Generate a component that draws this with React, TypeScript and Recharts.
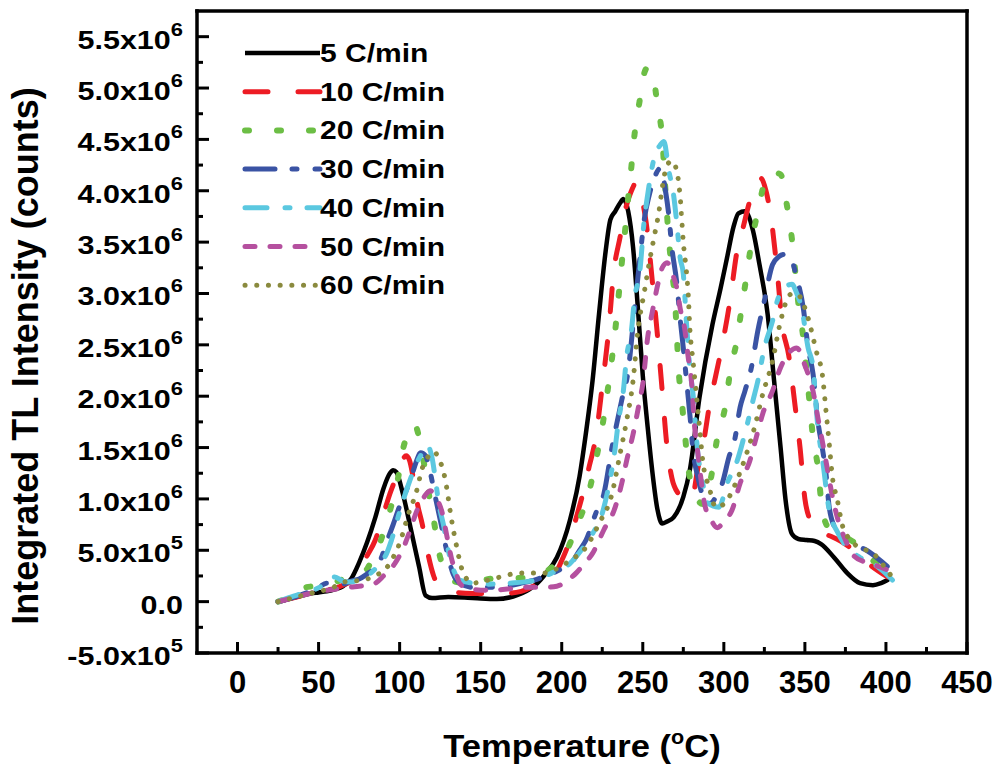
import { LineChart, Line, XAxis, YAxis, Legend } from "recharts"

// integrated TL intensity, in units of 10^6 counts, vs temperature (°C)
const RATE_5: [number, number][] = [
  [25, 0], [30, 0.02], [35, 0.04], [40, 0.06], [45, 0.08], [50, 0.09], [55, 0.1], [60, 0.12], [65, 0.15],
  [70, 0.22], [75, 0.38], [80, 0.58], [85, 0.82], [90, 1.1], [94, 1.25], [96, 1.28], [98, 1.26], [102, 1.05],
  [107, 0.7], [112, 0.34], [116, 0.06], [120, 0.035], [130, 0.045], [140, 0.04], [150, 0.03], [160, 0.025],
  [170, 0.05], [180, 0.12], [185, 0.18], [190, 0.27], [197, 0.43], [205, 0.79], [211, 1.22], [215, 1.65],
  [219, 2.15], [223, 2.8], [227, 3.4], [230, 3.72], [233, 3.8], [236, 3.88], [238, 3.92], [241, 3.8],
  [244, 3.45], [247, 2.85], [250, 2.2], [253, 1.7], [256, 1.25], [259, 0.9], [262, 0.76], [265, 0.78],
  [269, 0.82], [275, 1.02], [279, 1.28], [285, 1.99], [293, 2.7], [298, 3.05], [302, 3.35], [306, 3.65],
  [309, 3.78], [313, 3.8], [318, 3.61], [322, 3.28], [327, 2.8], [331, 2.15], [335, 1.5], [338, 1.0],
  [342, 0.66], [346, 0.61], [351, 0.6], [356, 0.59], [360, 0.56], [368, 0.43], [376, 0.28], [384, 0.18],
  [392, 0.16], [397, 0.18], [401, 0.21],
]
const RATE_10: [number, number][] = [
  [25, 0], [30, 0.02], [40, 0.06], [50, 0.1], [60, 0.13], [65, 0.16], [71, 0.21], [75, 0.32], [80, 0.45],
  [85, 0.6], [90, 0.85], [94, 1.05], [98, 1.22], [101, 1.35], [104, 1.42], [106, 1.38], [108, 1.24],
  [111, 0.95], [114, 0.75], [117, 0.5], [121, 0.25], [126, 0.13], [135, 0.09], [145, 0.08], [155, 0.08],
  [165, 0.08], [175, 0.1], [185, 0.17], [195, 0.25], [200, 0.4], [205, 0.6], [209, 0.82], [213, 1.05],
  [217, 1.32], [221, 1.6], [225, 2.1], [229, 2.65], [232, 3.2], [236, 3.55], [239, 3.8], [243, 4.0],
  [246, 4.08], [249, 3.95], [252, 3.7], [256, 3.1], [259, 2.6], [262, 2.05], [265, 1.5], [268, 1.2],
  [272, 1.05], [276, 1.0], [280, 0.99], [284, 1.3], [288, 1.6], [291, 1.9], [295, 2.2], [299, 2.5],
  [304, 2.95], [308, 3.4], [312, 3.65], [316, 3.9], [320, 4.07], [323, 4.12], [326, 4.0], [329, 3.75],
  [333, 3.2], [336, 2.7], [340, 2.4], [344, 1.9], [347, 1.5], [350, 1.0], [353, 0.8], [357, 0.7],
  [362, 0.66], [367, 0.63], [372, 0.59], [380, 0.5], [390, 0.36], [401, 0.24],
]
const RATE_20: [number, number][] = [
  [25, 0], [30, 0.03], [36, 0.08], [42, 0.14], [48, 0.15], [55, 0.16], [62, 0.2], [70, 0.25], [76, 0.28],
  [80, 0.32], [84, 0.45], [88, 0.58], [92, 0.78], [96, 1.0], [99, 1.2], [102, 1.48], [106, 1.65],
  [109, 1.73], [112, 1.6], [115, 1.35], [118, 1.05], [121, 0.8], [124, 0.5], [128, 0.3], [133, 0.2],
  [140, 0.18], [148, 0.2], [155, 0.22], [165, 0.23], [175, 0.23], [185, 0.25], [195, 0.35], [202, 0.47],
  [210, 0.76], [217, 1.08], [221, 1.37], [225, 1.7], [228, 2.02], [233, 2.64], [235, 2.96], [237, 3.29],
  [239, 3.6], [241, 3.93], [243, 4.24], [245, 4.56], [248, 4.87], [251, 5.15], [253, 5.2], [256, 5.15],
  [259, 4.84], [262, 4.51], [264, 4.0], [266, 3.54], [268, 3.22], [270, 2.9], [271, 2.6], [272, 2.28],
  [274, 1.96], [276, 1.63], [278, 1.31], [282, 1.06], [287, 0.95], [292, 1.2], [296, 1.6], [301, 1.91],
  [304, 2.25], [308, 2.54], [311, 2.86], [314, 3.17], [317, 3.49], [321, 3.8], [326, 4.12], [330, 4.18],
  [335, 4.16], [339, 3.85], [342, 3.53], [344, 3.22], [346, 2.9], [349, 2.57], [351, 2.25], [353, 1.92],
  [355, 1.6], [358, 1.31], [360, 0.99], [364, 0.73], [372, 0.65], [380, 0.58], [388, 0.45], [396, 0.35],
  [403, 0.25],
]
const RATE_30: [number, number][] = [
  [25, 0], [30, 0.02], [40, 0.07], [50, 0.14], [55, 0.18], [60, 0.17], [65, 0.17], [70, 0.2], [75, 0.22],
  [80, 0.27], [85, 0.33], [88, 0.4], [92, 0.58], [96, 0.75], [100, 0.93], [104, 1.08], [107, 1.2],
  [110, 1.35], [113, 1.45], [116, 1.42], [119, 1.25], [122, 1.02], [125, 0.8], [129, 0.5], [133, 0.27],
  [138, 0.17], [145, 0.14], [154, 0.14], [165, 0.15], [175, 0.18], [185, 0.22], [195, 0.28], [201, 0.33],
  [207, 0.4], [211, 0.5], [215, 0.6], [221, 0.86], [226, 1.05], [231, 1.5], [237, 1.96], [241, 2.25],
  [245, 2.86], [248, 3.31], [251, 3.73], [254, 3.96], [257, 4.12], [261, 4.22], [264, 4.0], [266, 3.77],
  [268, 3.44], [271, 3.1], [273, 2.76], [275, 2.47], [277, 2.15], [279, 1.83], [281, 1.47], [284, 1.21],
  [288, 1.0], [292, 0.96], [296, 1.05], [299, 1.15], [303, 1.4], [307, 1.6], [310, 1.89], [313, 2.05],
  [317, 2.28], [321, 2.64], [325, 2.93], [330, 3.28], [334, 3.36], [337, 3.38], [341, 3.35], [345, 3.15],
  [349, 2.86], [352, 2.47], [355, 2.22], [358, 1.76], [361, 1.47], [363, 1.25], [365, 0.92], [369, 0.7],
  [373, 0.6], [380, 0.55], [388, 0.5], [395, 0.42], [401, 0.34],
]
const RATE_40: [number, number][] = [
  [25, 0], [30, 0.03], [40, 0.08], [48, 0.12], [55, 0.18], [60, 0.24], [65, 0.2], [70, 0.19], [75, 0.22],
  [80, 0.25], [85, 0.32], [88, 0.37], [92, 0.47], [95, 0.6], [101, 0.93], [105, 1.12], [110, 1.33],
  [114, 1.45], [117, 1.52], [120, 1.4], [122, 1.2], [124, 0.97], [127, 0.75], [130, 0.5], [133, 0.32],
  [137, 0.21], [145, 0.18], [155, 0.17], [168, 0.18], [184, 0.21], [194, 0.28], [205, 0.37], [212, 0.5],
  [219, 0.66], [225, 0.86], [228, 1.05], [233, 1.5], [235, 1.76], [238, 2.05], [240, 2.38], [243, 2.64],
  [245, 2.96], [248, 3.19], [251, 3.73], [253, 3.96], [257, 4.32], [261, 4.45], [263, 4.48], [266, 4.2],
  [269, 3.96], [271, 3.68], [273, 3.35], [275, 3.19], [277, 2.7], [279, 2.28], [281, 2.02], [284, 1.44],
  [287, 1.15], [290, 0.96], [297, 0.92], [302, 1.15], [308, 1.36], [314, 1.7], [318, 1.96], [321, 2.15],
  [325, 2.47], [330, 2.73], [333, 2.93], [337, 3.05], [342, 3.09], [345, 3.0], [348, 2.86], [352, 2.47],
  [355, 2.28], [358, 1.7], [361, 1.37], [365, 0.89], [370, 0.68], [374, 0.57], [384, 0.43], [392, 0.37],
  [398, 0.3], [404, 0.21],
]
const RATE_50: [number, number][] = [
  [25, 0], [30, 0.02], [40, 0.06], [50, 0.1], [60, 0.12], [69, 0.14], [75, 0.15], [80, 0.16], [85, 0.18],
  [90, 0.25], [97, 0.37], [103, 0.55], [107, 0.72], [110, 0.86], [113, 0.96], [116, 1.04], [119, 1.08],
  [122, 1.02], [126, 0.88], [129, 0.65], [132, 0.42], [135, 0.27], [137, 0.18], [142, 0.13], [153, 0.11],
  [165, 0.12], [178, 0.14], [190, 0.14], [197, 0.15], [203, 0.2], [209, 0.28], [214, 0.37], [219, 0.47],
  [226, 0.7], [233, 0.92], [237, 1.15], [240, 1.37], [244, 1.63], [248, 1.95], [250, 2.12], [253, 2.57],
  [256, 2.83], [259, 3.07], [262, 3.25], [265, 3.3], [268, 3.2], [271, 3.05], [273, 2.86], [276, 2.64],
  [278, 2.38], [280, 2.15], [282, 1.7], [284, 1.44], [286, 1.18], [288, 0.96], [292, 0.8], [296, 0.72],
  [300, 0.78], [305, 0.89], [310, 1.15], [316, 1.37], [320, 1.6], [324, 1.83], [330, 2.05], [335, 2.28],
  [340, 2.42], [345, 2.47], [350, 2.3], [355, 2.05], [358, 1.79], [361, 1.54], [364, 1.28], [367, 1.02],
  [370, 0.82], [375, 0.6], [380, 0.45], [388, 0.38], [396, 0.34], [402, 0.3],
]
const RATE_60: [number, number][] = [
  [25, 0], [30, 0.02], [40, 0.06], [50, 0.1], [58, 0.13], [65, 0.19], [72, 0.2], [80, 0.22], [87, 0.27],
  [92, 0.33], [96, 0.43], [100, 0.57], [106, 0.88], [110, 1.05], [114, 1.3], [118, 1.42], [121, 1.46],
  [124, 1.4], [128, 1.2], [132, 0.8], [135, 0.55], [139, 0.29], [145, 0.18], [152, 0.2], [162, 0.24],
  [170, 0.27], [180, 0.28], [190, 0.28], [198, 0.33], [205, 0.4], [215, 0.53], [223, 0.76], [231, 1.05],
  [236, 1.44], [240, 1.76], [244, 2.15], [247, 2.64], [251, 3.02], [254, 3.3], [257, 3.55], [260, 3.8],
  [262, 4.03], [265, 4.25], [268, 4.29], [271, 4.19], [273, 3.95], [275, 3.5], [277, 3.2], [278, 3.0],
  [279, 2.67], [281, 2.34], [283, 2.02], [285, 1.7], [287, 1.37], [291, 1.11], [295, 0.92], [300, 0.95],
  [308, 1.18], [314, 1.44], [319, 1.7], [324, 2.02], [330, 2.34], [335, 2.73], [341, 2.99], [345, 3.0],
  [349, 2.9], [352, 2.76], [357, 2.44], [361, 2.18], [363, 1.86], [365, 1.54], [367, 1.21], [370, 0.99],
  [373, 0.75], [378, 0.6], [385, 0.52], [392, 0.47], [400, 0.32], [406, 0.19],
]

const RATE_LABELS = ["5 C/min", "10 C/min", "20 C/min", "30 C/min", "40 C/min", "50 C/min", "60 C/min"]
const X_TICKS = [0, 25, 50, 75, 100, 125, 150, 175, 200, 225, 250, 275, 300, 325, 350, 375, 400, 425, 450]
const Y_TICKS = [
  -0.5, -0.25, 0, 0.25, 0.5, 0.75, 1, 1.25, 1.5, 1.75, 2, 2.25, 2.5, 2.75, 3, 3.25, 3.5, 3.75, 4, 4.25,
  4.5, 4.75, 5, 5.25, 5.5,
]

const FONT = "'Liberation Sans', Arial, Helvetica, sans-serif"

const SERIES = [
  { data: RATE_5, color: "#000000", width: 4.5, dash: undefined },
  { data: RATE_10, color: "#ED1C24", width: 5, dash: "23 30" },
  { data: RATE_20, color: "#6CBE45", width: 6, dash: "4 28" },
  { data: RATE_30, color: "#3A53A4", width: 5, dash: "30 17 5 18" },
  { data: RATE_40, color: "#5BC8E0", width: 5, dash: "22 18 5 17" },
  { data: RATE_50, color: "#B5509F", width: 5, dash: "10 15" },
  { data: RATE_60, color: "#8A8A3E", width: 5, dash: "0.1 11.6" },
].map((s, i) => ({
  ...s,
  name: RATE_LABELS[i],
  points: s.data.map(([t, v]) => ({ t, v })),
}))

const isMajorX = (v: number) => v % 50 === 0
const isMajorY = (v: number) => Math.abs(v * 2 - Math.round(v * 2)) < 1e-9

function sci(v: number) {
  if (v === 0) return { mant: "0.0", exp: "" }
  const counts = v * 1e6
  const exp = Math.floor(Math.log10(Math.abs(counts)) + 1e-9)
  return { mant: (counts / 10 ** exp).toFixed(1) + "x10", exp: String(exp) }
}

function BottomTick({ x, y, payload }: any) {
  const major = isMajorX(payload.value)
  return (
    <g>
      <line x1={x} y1={y} x2={x} y2={y - (major ? 11 : 6)} stroke="#000" strokeWidth={3} />
      {major && (
        <text x={x} y={y + 40} textAnchor="middle" fontSize={31} fontWeight="bold" fontFamily={FONT} fill="#000">
          {payload.value}
        </text>
      )}
    </g>
  )
}

function TopTick({ x, y, payload }: any) {
  const major = isMajorX(payload.value)
  return <line x1={x} y1={y} x2={x} y2={y + (major ? 11 : 6)} stroke="#000" strokeWidth={3} />
}

function LeftTick({ x, y, payload }: any) {
  const v = payload.value
  const major = isMajorY(v)
  const { mant, exp } = sci(v)
  return (
    <g>
      <line x1={x} y1={y} x2={x + (major ? 12 : 6)} y2={y} stroke="#000" strokeWidth={3} />
      {major && (
        <text
          transform={`translate(${x - 14},${y + 12}) scale(1.22,1)`}
          textAnchor="end"
          fontSize={25}
          fontWeight="bold"
          fontFamily={FONT}
          fill="#000"
        >
          {mant}
          {exp && (
            <tspan dy={-13} fontSize={18}>
              {exp}
            </tspan>
          )}
        </text>
      )}
    </g>
  )
}

function RightTick({ x, y, payload }: any) {
  const major = isMajorY(payload.value)
  return <line x1={x} y1={y} x2={x - (major ? 12 : 6)} y2={y} stroke="#000" strokeWidth={3} />
}

function XTitle(props: any) {
  const vb = props.viewBox ?? { x: 197, y: 653, width: 770, height: 114 }
  const cx = vb.x + vb.width / 2
  const y = vb.y + 104
  return (
    <text
      transform={`translate(${cx},${y}) scale(1.08,1)`}
      textAnchor="middle"
      fontSize={32}
      fontWeight="bold"
      fontFamily={FONT}
      fill="#000"
    >
      Temperature (
      <tspan dy={-13} fontSize={20}>
        o
      </tspan>
      <tspan dy={13}>C)</tspan>
    </text>
  )
}

function YTitle(props: any) {
  const vb = props.viewBox ?? { x: 0, y: 11, width: 197, height: 642 }
  const cx = vb.x + 38
  const cy = vb.y + vb.height / 2 + 24
  return (
    <text
      x={cx}
      y={cy}
      transform={`rotate(-90 ${cx} ${cy})`}
      textAnchor="middle"
      fontSize={36}
      fontWeight="bold"
      fontFamily={FONT}
      fill="#000"
    >
      Integrated TL Intensity (counts)
    </text>
  )
}

function LegendBox() {
  const rowGap = 38.7
  return (
    <svg width={270} height={280}>
      {SERIES.map((s, i) => {
        const cy = 23 + i * rowGap
        return (
          <g key={s.name}>
            <line
              x1={10}
              x2={85}
              y1={cy}
              y2={cy}
              stroke={s.color}
              strokeWidth={s.width}
              strokeDasharray={s.dash}
              strokeLinecap={s.dash ? "round" : "butt"}
            />
            <text
              transform={`translate(85,${cy + 9}) scale(1.2,1)`}
              fontSize={25}
              fontWeight="bold"
              fontFamily={FONT}
              fill="#000"
            >
              {s.name}
            </text>
          </g>
        )
      })}
    </svg>
  )
}

const AXIS_LINE = { stroke: "#000", strokeWidth: 3.5, strokeLinecap: "square" as const }

export default function App() {
  return (
    <div style={{ position: "absolute", left: 0, top: 0, background: "#fff" }}>
      <LineChart width={1003} height={767} margin={{ top: 0, right: 0, bottom: 0, left: 0 }}>
        <XAxis
          xAxisId="bottom"
          type="number"
          dataKey="t"
          domain={[-25, 450]}
          ticks={X_TICKS}
          interval={0}
          height={114}
          tickSize={0}
          tickMargin={0}
          tickLine={false}
          axisLine={AXIS_LINE}
          tick={BottomTick}
          label={XTitle}
        />
        <XAxis
          xAxisId="top"
          orientation="top"
          type="number"
          dataKey="t"
          domain={[-25, 450]}
          ticks={X_TICKS}
          interval={0}
          height={11}
          tickSize={0}
          tickMargin={0}
          tickLine={false}
          axisLine={AXIS_LINE}
          tick={TopTick}
        />
        <YAxis
          yAxisId="left"
          type="number"
          domain={[-0.5, 5.75]}
          ticks={Y_TICKS}
          interval={0}
          width={197}
          tickSize={0}
          tickMargin={0}
          tickLine={false}
          axisLine={AXIS_LINE}
          tick={LeftTick}
          label={YTitle}
        />
        <YAxis
          yAxisId="right"
          orientation="right"
          type="number"
          domain={[-0.5, 5.75]}
          ticks={Y_TICKS}
          interval={0}
          width={36}
          tickSize={0}
          tickMargin={0}
          tickLine={false}
          axisLine={AXIS_LINE}
          tick={RightTick}
        />
        {SERIES.map((s) => (
          <Line
            key={s.name}
            xAxisId="bottom"
            yAxisId="left"
            data={s.points}
            dataKey="v"
            name={s.name}
            type="monotone"
            stroke={s.color}
            strokeWidth={s.width}
            strokeDasharray={s.dash}
            strokeLinecap="round"
            strokeLinejoin="round"
            dot={false}
            activeDot={false}
            isAnimationActive={false}
          />
        ))}
        <Legend
          layout="vertical"
          align="center"
          verticalAlign="middle"
          wrapperStyle={{ position: "absolute", left: 235, top: 30, width: 270, height: 280 }}
          content={() => <LegendBox />}
        />
      </LineChart>
    </div>
  )
}
